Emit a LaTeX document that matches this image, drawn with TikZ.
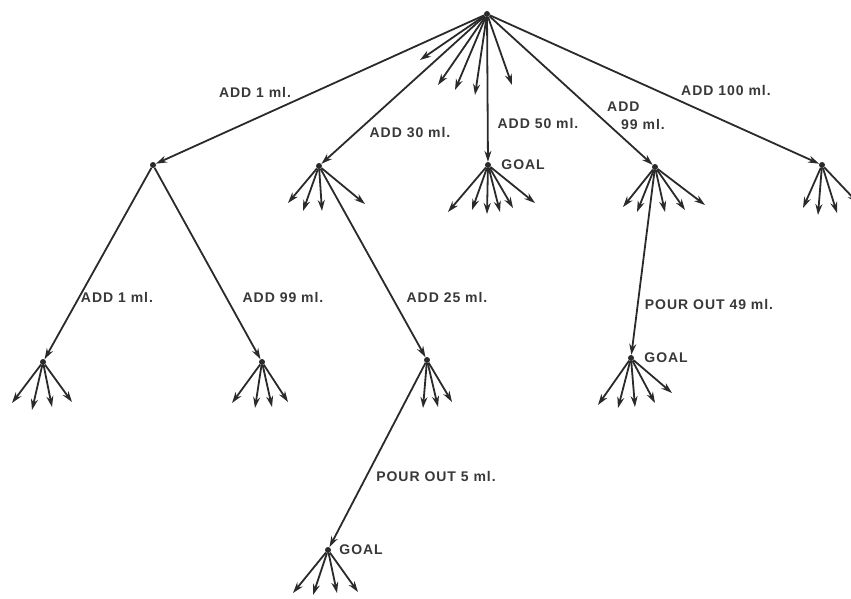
\documentclass[tikz,border=0pt]{standalone}
\usepackage{fontspec}
\setmainfont{Liberation Sans}
\usepackage{tikz}
\usetikzlibrary{positioning,arrows.meta}
\definecolor{ink}{HTML}{2A2A2A}
\definecolor{tag}{HTML}{383838}
\tikzset{
  st/.style={circle,fill=ink,inner sep=0pt,minimum size=6pt},
  move/.style={draw=ink,line width=1.8pt,-{Stealth[length=11pt,width=7pt]}},
  twig/.style={move},
  lbl/.style={text=tag,inner sep=1pt,font=\bfseries\fontsize{14}{18}\selectfont\addfontfeature{LetterSpace=7}},
}
\newcommand{\twigs}[2]{%
  \foreach \tx/\ty [count=\k] in {#2} {
    \coordinate (#1-\k) at (\tx,\ty);
    \draw[twig] (#1) -- (#1-\k);
  }}

\begin{document}
\begin{tikzpicture}[x=1pt,y=-1pt]
  \useasboundingbox (0,0) rectangle (851,598);
  % states
  \node[st] (root) at (487,14) {};
  \node[st] (a1)   at (153,165) {};
  \node[st] (a30)  at (319,166) {};
  \node[st] (a50)  at (488,165) {};
  \node[st] (a99)  at (655,167) {};
  \node[st] (a100) at (822,165) {};
  \node[st] (b1)   at (43,362) {};
  \node[st] (b99)  at (262,362) {};
  \node[st] (b25)  at (427,360) {};
  \node[st] (b49)  at (631,358) {};
  \node[st] (c5)   at (328,550) {};
  % moves
  \draw[move] (root) -- (a1);
  \draw[move] (root) -- (a30);
  \draw[move] (root) -- (a50);
  \draw[move] (root) -- (a99);
  \draw[move] (root) -- (a100);
  \draw[move] (a1) -- (b1);
  \draw[move] (a1) -- (b99);
  \draw[move] (a30) -- (b25);
  \draw[move] (a99) -- (b49);
  \draw[move] (b25) -- (c5);
  % move labels
  \node[lbl] (t-a1)   at (255,92)  {ADD 1 ml.};
  \node[lbl] (t-a30)  at (410,133) {ADD 30 ml.};
  \node[lbl] (t-a50)  at (538,123) {ADD 50 ml.};
  \node[lbl,align=left,anchor=west] (t-a99) at (606,116) {ADD\\\hspace{14pt}99 ml.};
  \node[lbl] (t-a100) at (726,90)  {ADD 100 ml.};
  \node[lbl] (t-b1)   at (117,297) {ADD 1 ml.};
  \node[lbl] (t-b99)  at (283,297) {ADD 99 ml.};
  \node[lbl] (t-b25)  at (447,297) {ADD 25 ml.};
  \node[lbl] (t-b49)  at (709,304) {POUR OUT 49 ml.};
  \node[lbl] (t-c5)   at (436,476) {POUR OUT 5 ml.};
  \node[lbl,right=9pt of a50] (g-a50) {GOAL};
  \node[lbl,right=9pt of b49] (g-b49) {GOAL};
  \node[lbl,right=7pt of c5]  (g-c5)  {GOAL};
  % untried moves
  \twigs{root}{420/60,438/85,455/90,475/95,512/85}
  \twigs{a30}{288/203,303/211,322/211,365/204}
  \twigs{a50}{448/212,472/210,487/214,500/212,513/208,535/203}
  \twigs{a99}{623/207,637/212,665/212,685/210,705/205}
  \twigs{a100}{803/208,818/215,837/213,858/203}
  \twigs{b1}{12/403,32/410,52/407,72/402}
  \twigs{b99}{232/403,255/408,272/407,288/402}
  \twigs{b25}{423/408,438/407,452/402}
  \twigs{b49}{598/405,618/408,635/407,655/403,672/393}
  \twigs{c5}{293/593,313/595,337/593,358/592}
\end{tikzpicture}
\end{document}
